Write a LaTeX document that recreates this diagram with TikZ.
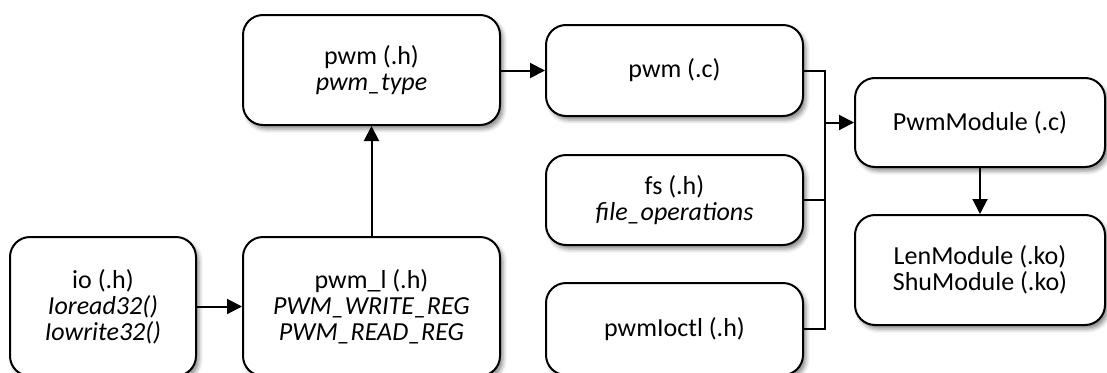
\documentclass[tikz,border=0pt]{standalone}
\usepackage{fontspec}
\setmainfont{Carlito}
\usetikzlibrary{arrows.meta,shadows.blur}

\tikzset{
  unit/.style={
    draw=black, line width=2pt, fill=white, rounded corners=20pt,
    inner sep=0pt, align=center,
    font=\fontsize{26}{26}\selectfont,
    blur shadow={shadow xshift=3pt, shadow yshift=-4pt,
                 shadow blur radius=4pt, shadow opacity=45}
  },
  link/.style={line width=2pt, -{Triangle[length=15pt,width=15pt]}},
  wire/.style={line width=2pt}
}

\begin{document}
\begin{tikzpicture}[x=1pt, y=-1pt]
  \useasboundingbox (0,0) rectangle (1107,372);
  \clip (0,0) rectangle (1107,372);

  % source headers
  \node[unit, minimum width=186pt, minimum height=139pt] (io)    at (103,306.5)
    {io (.h)\\\textit{Ioread32()}\\\textit{Iowrite32()}};
  \node[unit, minimum width=257pt, minimum height=139pt] (pwml)  at (371.5,306.5)
    {pwm\_l (.h)\\\textit{PWM\_WRITE\_REG}\\\textit{PWM\_READ\_REG}};
  \node[unit, minimum width=257pt, minimum height=110pt] (pwmh)  at (371.5,70)
    {pwm (.h)\\\textit{pwm\_type}};
  \node[unit, minimum width=257pt, minimum height=91pt]  (pwmc)  at (674.5,70.5)
    {pwm (.c)};
  \node[unit, minimum width=257pt, minimum height=90pt]  (fs)    at (674.5,200)
    {fs (.h)\\\textit{file\_operations}};
  \node[unit, minimum width=257pt, minimum height=92pt]  (ioctl) at (674.5,329)
    {pwmIoctl (.h)};

  % modules
  \node[unit, minimum width=250pt, minimum height=89pt]  (mod)   at (980,122.5)
    {PwmModule (.c)};
  \node[unit, minimum width=250pt, minimum height=110pt] (ko)    at (980,270)
    {LenModule (.ko)\\ShuModule (.ko)};

  % dependencies
  \draw[link] (io) -- (pwml);
  \draw[link] (pwml) -- (pwmh);
  \draw[link] (pwmh.east |- pwmc.west) -- (pwmc.west);

  % bus into PwmModule
  \coordinate (bus) at (825,0);
  \draw[wire] (pwmc.east) -- (pwmc.east -| bus) -- (ioctl.east -| bus) -- (ioctl.east);
  \draw[wire] (fs.east) -- (fs.east -| bus);
  \draw[link] (mod.west -| bus) -- (mod.west);
  \draw[link] (mod) -- (ko);
\end{tikzpicture}
\end{document}
